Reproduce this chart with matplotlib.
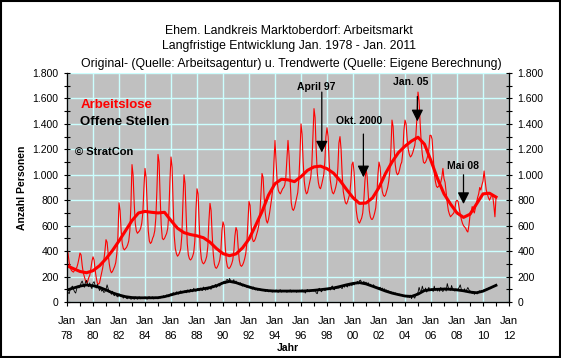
import numpy as np
import matplotlib
matplotlib.use("Agg")
import matplotlib.pyplot as plt
from matplotlib.patches import Rectangle

plt.rcParams["font.family"] = ["Liberation Sans", "DejaVu Sans"]

# Arbeitslose, monthly Jan..Dec per year, 1978-2010, plus Jan 2011
ARBEITSLOSE = [
    [420, 380, 310, 270, 250, 240, 235, 250, 260, 270, 300, 340],      # 1978
    [385, 370, 290, 230, 200, 170, 150, 160, 190, 210, 260, 320],      # 1979
    [355, 330, 250, 190, 150, 140, 150, 190, 230, 270, 330, 400],      # 1980
    [490, 470, 380, 300, 250, 230, 240, 260, 280, 310, 380, 520],      # 1981
    [780, 720, 560, 460, 420, 410, 420, 430, 450, 480, 560, 760],      # 1982
    [1080, 1000, 780, 620, 560, 540, 550, 560, 580, 620, 700, 900],    # 1983
    [1050, 980, 760, 560, 480, 460, 470, 500, 520, 560, 660, 880],     # 1984
    [1160, 1100, 820, 600, 500, 490, 500, 520, 540, 580, 700, 950],    # 1985
    [1140, 1060, 760, 520, 420, 380, 360, 370, 390, 420, 520, 780],    # 1986
    [1000, 930, 680, 460, 370, 340, 330, 340, 360, 390, 480, 720],     # 1987
    [890, 850, 620, 430, 340, 310, 300, 310, 330, 360, 440, 640],      # 1988
    [775, 720, 530, 380, 300, 270, 265, 280, 300, 330, 400, 560],      # 1989
    [630, 600, 450, 330, 280, 265, 265, 280, 300, 330, 400, 520],      # 1990
    [585, 560, 430, 330, 290, 280, 290, 310, 340, 380, 460, 620],      # 1991
    [790, 760, 600, 500, 475, 480, 500, 530, 560, 600, 680, 850],      # 1992
    [1010, 980, 820, 700, 640, 620, 650, 700, 760, 820, 900, 1100],    # 1993
    [1270, 1100, 950, 880, 860, 850, 870, 890, 900, 920, 980, 1120],   # 1994
    [1270, 1150, 950, 780, 730, 720, 740, 780, 820, 860, 960, 1150],   # 1995
    [1400, 1320, 1100, 950, 880, 850, 860, 900, 940, 980, 1080, 1300], # 1996
    [1520, 1450, 1200, 1020, 940, 900, 890, 920, 960, 1000, 1100, 1300],  # 1997
    [1370, 1300, 1100, 960, 900, 860, 850, 870, 900, 940, 1050, 1250],    # 1998
    [1300, 1200, 1000, 870, 820, 780, 770, 790, 820, 850, 940, 1080],     # 1999
    [1100, 1020, 850, 720, 660, 630, 620, 640, 660, 700, 800, 950],       # 2000
    [1050, 990, 850, 720, 670, 650, 650, 670, 700, 740, 840, 1000],       # 2001
    [1100, 1060, 950, 870, 840, 830, 840, 870, 900, 950, 1030, 1200],     # 2002
    [1430, 1380, 1200, 1080, 1020, 1000, 1010, 1040, 1080, 1100, 1180, 1350],  # 2003
    [1430, 1400, 1280, 1200, 1160, 1140, 1150, 1170, 1200, 1230, 1300, 1450],  # 2004
    [1650, 1580, 1400, 1250, 1160, 1100, 1090, 1100, 1120, 1150, 1200, 1310],  # 2005
    [1310, 1280, 1150, 1020, 950, 910, 900, 910, 920, 940, 980, 1050],    # 2006
    [970, 940, 860, 780, 720, 690, 670, 680, 690, 700, 730, 790],         # 2007
    [800, 790, 740, 690, 650, 620, 600, 590, 580, 560, 550, 600],         # 2008
    [680, 700, 750, 720, 700, 740, 780, 820, 850, 900, 880, 920],         # 2009
    [950, 1030, 950, 880, 850, 820, 800, 820, 840, 830, 760, 670],        # 2010
    [820],                                                                # 2011
]

# Offene Stellen, monthly
OFFENE_STELLEN = [
    [100, 75, 65, 100, 115, 125, 100, 80, 70, 105, 125, 110],     # 1978
    [120, 150, 165, 140, 115, 155, 170, 140, 120, 150, 120, 105],  # 1979
    [150, 160, 130, 110, 140, 115, 90, 110, 85, 95, 75, 80],       # 1980
    [100, 135, 105, 75, 80, 60, 85, 55, 50, 65, 45, 40],           # 1981
    [65, 55, 40, 45, 30, 45, 38, 28, 25, 38, 30, 22],              # 1982
    [25, 35, 20, 40, 30, 22, 38, 40, 25, 30, 36, 28],              # 1983
    [40, 28, 22, 38, 42, 26, 36, 40, 24, 30, 38, 30],              # 1984
    [25, 40, 30, 45, 35, 50, 40, 45, 55, 50, 40, 58],              # 1985
    [65, 55, 75, 60, 58, 80, 66, 62, 78, 88, 70, 80],              # 1986
    [75, 90, 72, 95, 85, 78, 100, 88, 80, 108, 90, 84],            # 1987
    [98, 108, 88, 110, 95, 90, 118, 100, 92, 112, 96, 118],        # 1988
    [105, 100, 130, 112, 125, 138, 115, 128, 142, 124, 146, 155],  # 1989
    [150, 165, 145, 172, 178, 160, 185, 170, 158, 165, 175, 150],  # 1990
    [165, 145, 150, 135, 152, 130, 125, 140, 122, 130, 115, 122],  # 1991
    [125, 110, 115, 100, 118, 100, 95, 108, 92, 100, 104, 90],     # 1992
    [100, 88, 95, 82, 90, 96, 80, 88, 92, 80, 78, 92],             # 1993
    [80, 95, 82, 76, 92, 96, 78, 86, 90, 82, 88, 76],              # 1994
    [88, 80, 96, 78, 84, 92, 82, 88, 76, 92, 80, 94],              # 1995
    [82, 96, 78, 84, 70, 90, 98, 84, 80, 92, 86, 94],              # 1996
    [84, 98, 72, 65, 100, 108, 88, 80, 96, 102, 90, 95],           # 1997
    [100, 96, 112, 94, 118, 126, 100, 96, 120, 105, 112, 108],     # 1998
    [120, 112, 105, 132, 116, 136, 124, 118, 140, 126, 142, 128],  # 1999
    [146, 134, 150, 144, 162, 142, 168, 172, 150, 146, 162, 148],  # 2000
    [156, 140, 152, 135, 140, 126, 122, 136, 120, 124, 112, 118],  # 2001
    [110, 116, 102, 110, 96, 104, 90, 95, 84, 88, 76, 82],         # 2002
    [72, 78, 66, 72, 60, 66, 56, 62, 50, 56, 46, 52],              # 2003
    [42, 52, 38, 44, 34, 54, 26, 48, 40, 30, 55, 65],              # 2004
    [75, 115, 88, 82, 125, 92, 86, 110, 78, 96, 115, 88],          # 2005
    [98, 104, 82, 125, 92, 108, 86, 104, 84, 115, 92, 82],         # 2006
    [104, 110, 86, 145, 112, 98, 92, 130, 102, 96, 86, 104],       # 2007
    [92, 104, 115, 135, 100, 92, 86, 104, 80, 98, 114, 96],        # 2008
    [88, 80, 66, 78, 60, 72, 66, 64, 82, 88, 78, 92],              # 2009
    [86, 98, 90, 104, 96, 108, 112, 104, 118, 122, 126, 130],      # 2010
    [134],                                                         # 2011
]

# Trend values, every half year from Jan 1978 to Jan 2011
TREND_ARBEITSLOSE = [
    285, 262, 240, 230, 246, 285, 340, 405, 480, 560,
    640, 700, 712, 705, 700, 705, 640, 580, 545, 530,
    520, 505, 470, 420, 380, 364, 378, 425, 495, 600,
    710, 840, 930, 965, 960, 946, 985, 1035, 1062, 1068,
    1048, 1013, 955, 885, 820, 775, 778, 818, 900, 1010,
    1100, 1175, 1225, 1265, 1295, 1240, 1110, 970, 850, 770,
    700, 665, 690, 770, 850, 855, 825,
]
TREND_OFFENE = [
    94, 110, 125, 134, 128, 115, 95, 72, 55, 42,
    35, 33, 33, 33, 34, 42, 56, 70, 80, 88,
    96, 104, 113, 128, 150, 162, 152, 135, 118, 104,
    95, 89, 86, 86, 86, 86, 86, 88, 92, 97,
    103, 110, 122, 135, 146, 152, 142, 124, 105, 86,
    70, 58, 47, 44, 62, 90, 97, 100, 102, 100,
    95, 88, 78, 73, 85, 108, 131,
]

X_TICK_LABELS = ["Jan\n78", "Jan\n80", "Jan\n82", "Jan\n84", "Jan\n86", "Jan\n88",
                 "Jan\n90", "Jan\n92", "Jan\n94", "Jan\n96", "Jan\n98", "Jan\n00",
                 "Jan\n02", "Jan\n04", "Jan\n06", "Jan\n08", "Jan\n10", "Jan\n12"]
Y_TICK_LABELS = ["0", "200", "400", "600", "800", "1.000", "1.200", "1.400", "1.600", "1.800"]

ANNOTATIONS = [
    # label, text x/y, arrow x, arrow start y, arrow end y
    ("April 97", 1997.2, 1690, 1997.6, 1650, 1175),
    ("Okt. 2000", 2000.5, 1420, 2000.8, 1320, 980),
    ("Jan. 05", 2004.45, 1730, 2004.95, 1615, 1420),
    ("Mai 08", 2008.45, 1070, 2008.5, 1000, 770),
]


def main():
    al = np.concatenate([np.array(r, dtype=float) for r in ARBEITSLOSE])
    os_ = np.concatenate([np.array(r, dtype=float) for r in OFFENE_STELLEN])
    t_month = 1978 + np.arange(len(al)) / 12.0
    t_trend = 1978 + np.arange(len(TREND_ARBEITSLOSE)) * 0.5

    fig = plt.figure(figsize=(5.61, 3.58), dpi=100)
    ax = fig.add_axes([67 / 561, 56 / 358, 442 / 561, 229 / 358])
    ax.set_facecolor("#C0C0C0")

    ax.plot(t_month, al, color="#FF0000", lw=0.8, zorder=3)
    ax.plot(t_trend, TREND_ARBEITSLOSE, color="#FF0000", lw=2.2, zorder=4)
    ax.plot(t_month, os_, color="black", lw=0.6, zorder=3)
    ax.plot(t_trend, TREND_OFFENE, color="black", lw=2.0, zorder=4)

    ax.set_xlim(1978, 2012)
    ax.set_ylim(0, 1800)
    ax.set_xticks(np.arange(1978, 2013, 2))
    ax.set_xticklabels(X_TICK_LABELS, fontsize=8, linespacing=1.65)
    ax.set_xticks(np.arange(1978, 2013, 1), minor=True)
    ax.set_yticks(np.arange(0, 1801, 200))
    ax.set_yticklabels(Y_TICK_LABELS, fontsize=7.5)
    ax.set_yticks(np.arange(0, 1801, 100), minor=True)
    ax.grid(True, which="major", color="#CCFFFF", lw=1.0, zorder=1)
    ax.set_axisbelow(True)
    ax.tick_params(axis="x", which="both", direction="out", length=3, width=0.8, pad=7)
    ax.tick_params(axis="y", which="both", direction="inout", length=5, width=0.8)
    ax.spines["top"].set_visible(False)
    for s in ("left", "right", "bottom"):
        ax.spines[s].set_linewidth(0.9)

    ax2 = ax.twinx()
    ax2.set_ylim(0, 1800)
    ax2.set_yticks(np.arange(0, 1801, 200))
    ax2.set_yticklabels(Y_TICK_LABELS, fontsize=7.5)
    ax2.set_yticks(np.arange(0, 1801, 100), minor=True)
    ax2.tick_params(axis="y", which="both", direction="inout", length=5, width=0.8)
    ax2.spines["top"].set_visible(False)

    fig.text(288 / 561, 1 - 348 / 358, "Jahr", ha="center", va="center",
             fontsize=7.5, fontweight="bold")
    ax.set_ylabel("Anzahl Personen", fontsize=7.5, fontweight="bold", labelpad=4)

    fig.text(289 / 561, 1 - 31 / 358, "Ehem. Landkreis Marktoberdorf: Arbeitsmarkt",
             ha="center", va="center", fontsize=8.8)
    fig.text(289 / 561, 1 - 46.5 / 358, "Langfristige Entwicklung Jan. 1978 - Jan. 2011",
             ha="center", va="center", fontsize=8.8)
    fig.text(291 / 561, 1 - 64 / 358,
             "Original- (Quelle: Arbeitsagentur) u. Trendwerte (Quelle: Eigene Berechnung)",
             ha="center", va="center", fontsize=8.8)

    ax.text(0.03, 0.86, "Arbeitslose", transform=ax.transAxes, color="#FF0000",
            fontsize=9.5, fontweight="bold", va="center")
    ax.text(0.03, 0.785, "Offene Stellen", transform=ax.transAxes, color="black",
            fontsize=9.5, fontweight="bold", va="center")
    ax.text(0.018, 0.655, "\u00a9 StratCon", transform=ax.transAxes, color="black",
            fontsize=8, fontweight="bold", va="center")

    for label, tx, ty, axx, y0, y1 in ANNOTATIONS:
        ax.text(tx, ty, label, ha="center", va="center", fontsize=7.5,
                fontweight="bold", zorder=6)
        ax.annotate("", xy=(axx, y1), xytext=(axx, y0),
                    arrowprops=dict(arrowstyle="-|>,head_length=0.7,head_width=0.35",
                                    color="black", lw=0.9, shrinkA=0, shrinkB=0),
                    zorder=6)

    fig.patches.append(Rectangle((0.002, 0.003), 0.996, 0.994, transform=fig.transFigure,
                                 fill=False, edgecolor="black", lw=1.5))

    fig.savefig("out.png", dpi=100)


if __name__ == "__main__":
    main()
